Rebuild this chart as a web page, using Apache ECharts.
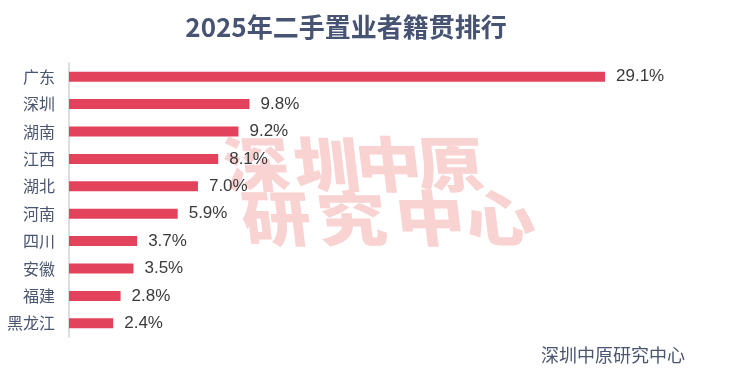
<!DOCTYPE html>
<html><head><meta charset="utf-8">
<script src="https://cdn.jsdelivr.net/npm/echarts@6/dist/echarts.min.js"></script>
<style>html,body{margin:0;padding:0;background:#fff}#c{width:740px;height:370px}</style>
</head><body><div id="c"></div>
<script>
const categories = ['广东','深圳','湖南','江西','湖北','河南','四川','安徽','福建','黑龙江'];
const values = [29.1, 9.8, 9.2, 8.1, 7.0, 5.9, 3.7, 3.5, 2.8, 2.4];
const titleText = '2025年二手置业者籍贯排行';
const sourceText = '深圳中原研究中心';
const watermark1 = ['深','圳','中','原'];
const watermark2 = ['研','究','中','心'];

const chart = echarts.init(document.getElementById('c'), null, {renderer:'canvas'});
const font = '"Noto Sans CJK SC", "Noto Sans", sans-serif';
const numFont = '"Liberation Sans", Arial, sans-serif';
const wmX1 = [220, 290, 352, 414];
const wmX2 = [238, 314, 392, 462];
const wm = [];
watermark1.forEach((ch,i)=>wm.push({type:'text',z:-10,silent:true,x:wmX1[i],y:134,scaleX:1.1,skewX:0.12,
  style:{text:ch,fontFamily:font,fontWeight:900,fontSize:60,fill:'#f9d2d2'}}));
watermark2.forEach((ch,i)=>wm.push({type:'text',z:-10,silent:true,x:wmX2[i],y:188,scaleX:1.15,skewX:0.12,
  style:{text:ch,fontFamily:font,fontWeight:900,fontSize:60,fill:'#f9d2d2'}}));
chart.setOption({
  animation:false,
  backgroundColor:'#fff',
  title:{text:titleText,left:341,top:9,textAlign:'center',
    textStyle:{fontFamily:font,fontSize:26,fontWeight:'bold',color:'#465372'}},
  grid:{left:69,right:135,top:63,bottom:33,containLabel:false},
  xAxis:{type:'value',min:0,max:29.1,show:false},
  yAxis:{type:'category',data:categories,inverse:true,
    axisLine:{show:true,lineStyle:{color:'#d3d3d3',width:1.5}},
    axisTick:{show:false},
    axisLabel:{fontFamily:font,fontSize:16,color:'#4a5570',margin:14}},
  graphic:wm.concat([
    {type:'text',right:55,bottom:6,
      style:{text:sourceText,fontFamily:font,fontSize:18,fill:'#4a5570'}}
  ]),
  series:[{type:'bar',data:values,barWidth:10,z:5,
    itemStyle:{color:'#e2425b'},
    label:{show:true,position:'right',distance:11,formatter:p=>p.value.toFixed(1)+'%',
      fontFamily:numFont,fontSize:17,color:'#3a3a3a'}}]
});
</script></body></html>
